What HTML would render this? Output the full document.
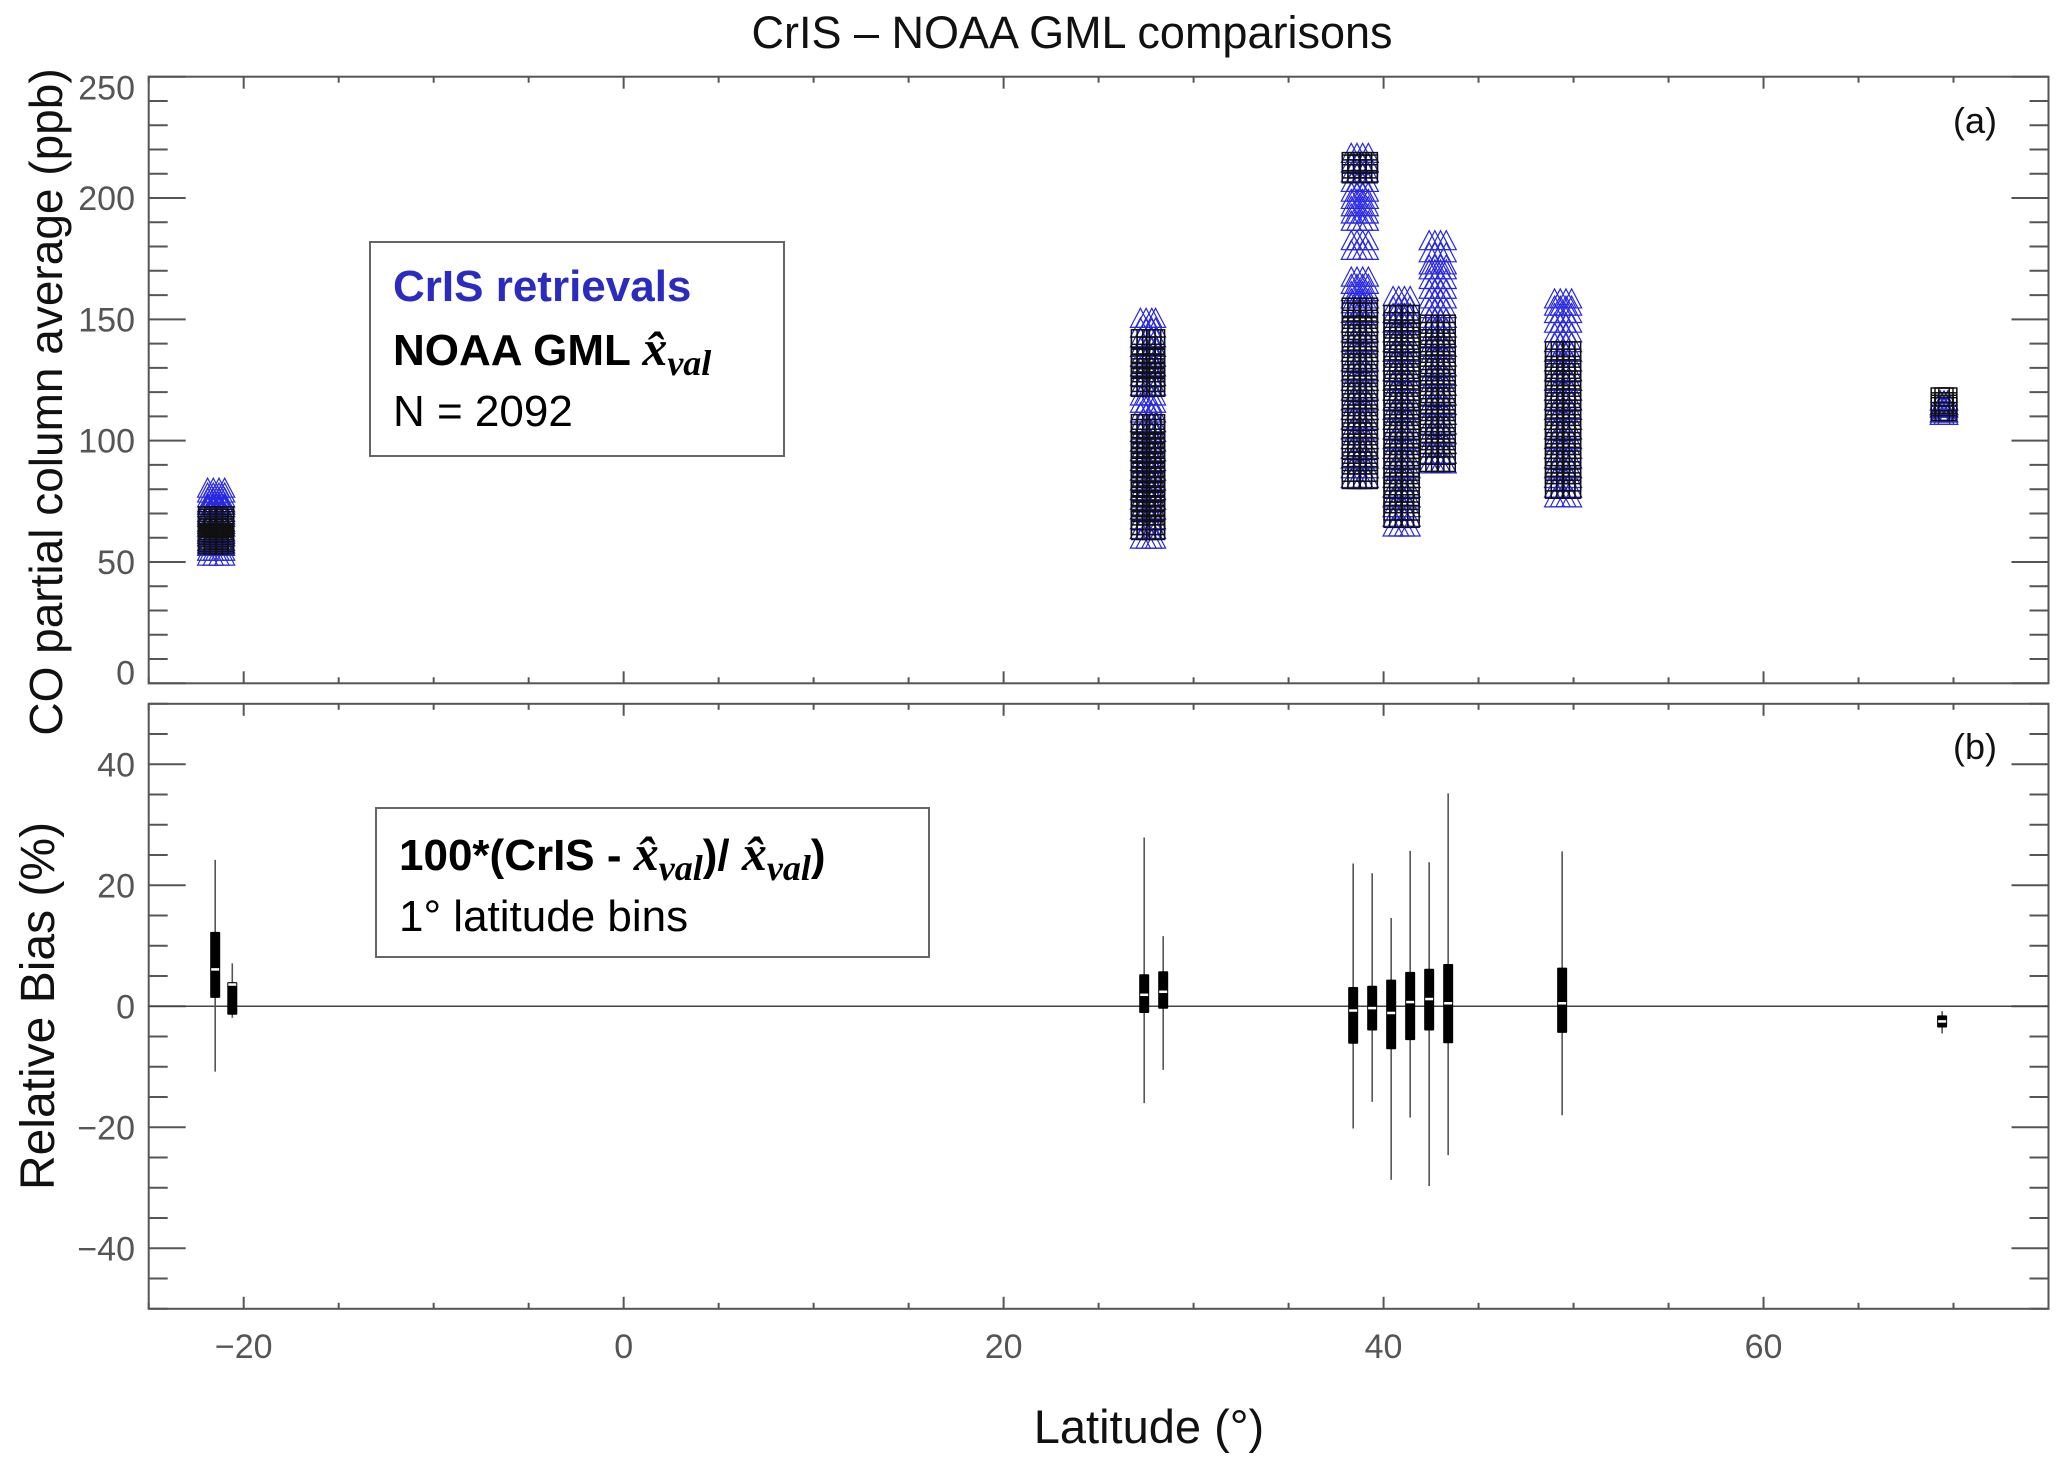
<!DOCTYPE html>
<html><head><meta charset="utf-8"><style>
html,body{margin:0;padding:0;background:#fff;}
svg{display:block;}
text{font-family:"Liberation Sans",sans-serif;}
</style></head><body>
<svg id="chart" width="2067" height="1470" viewBox="0 0 2067 1470" xmlns="http://www.w3.org/2000/svg">
<text x="1072" y="48" font-size="45" text-anchor="middle" fill="#111">CrIS – NOAA GML comparisons</text>
<text transform="translate(62,402) rotate(-90)" font-size="46" text-anchor="middle" fill="#111">CO partial column average (ppb)</text>
<text transform="translate(54,1006) rotate(-90)" font-size="48" text-anchor="middle" fill="#111">Relative Bias (%)</text>
<text x="1149" y="1443" font-size="47" text-anchor="middle" fill="#111">Latitude (°)</text>
<g id="axes"></g>
<g id="marksA"></g>
<g id="marksB"></g>
<text x="1975" y="133" font-size="36" text-anchor="middle" fill="#111">(a)</text>
<text x="1975" y="759" font-size="36" text-anchor="middle" fill="#111">(b)</text>
<g>
<rect x="370" y="242" width="414" height="214" fill="#fff" stroke="#666" stroke-width="2"/>
<text x="393" y="301" font-size="44" font-weight="bold" fill="#2b2bbf">CrIS retrievals</text>
<text x="393" y="365" font-size="44" font-weight="bold" fill="#000">NOAA GML <tspan font-family="Liberation Serif,serif" font-style="italic" font-size="50">x̂</tspan><tspan font-family="Liberation Serif,serif" font-style="italic" font-size="36" dy="10">val</tspan></text>
<text x="393" y="426" font-size="44" fill="#000">N = 2092</text>
</g>
<g>
<rect x="376" y="808" width="553" height="149" fill="#fff" stroke="#666" stroke-width="2"/>
<text x="399" y="870" font-size="44" font-weight="bold" fill="#000">100*(CrIS - <tspan font-family="Liberation Serif,serif" font-style="italic" font-size="50">x̂</tspan><tspan font-family="Liberation Serif,serif" font-style="italic" font-size="36" dy="10">val</tspan><tspan dy="-10">)/ </tspan><tspan font-family="Liberation Serif,serif" font-style="italic" font-size="50">x̂</tspan><tspan font-family="Liberation Serif,serif" font-style="italic" font-size="36" dy="10">val</tspan><tspan dy="-10">)</tspan></text>
<text x="399" y="931" font-size="44" fill="#000">1° latitude bins</text>
</g>
</svg>
<script>
// ---- data: panel (a) scatter, per cluster ----
const latsM21 = [-21.9,-21.6,-21.3,-21.0];
const sqM21 = [57,58,59,60,61,62,63,64,65,66,67,68,69,58,60,62,64,61,63];
const triM21 = [52,54,56,58,60,62,64,66,68,70,72,74,76,78,80,57,61,65,69,73];
const lats27 = [27.2,27.5,27.8,28.0];
const sq27 = [63,65,67,69,71,73,75,77,79,81,83,85,87,89,91,93,95,97,99,101,103,105,107,122,124,126,128,130,132,134,136,139,142];
const tri27 = [59,63,67,71,75,79,83,87,91,95,99,103,107,111,115,118,122,126,130,134,138,142,146,150];
const lats38 = [38.3,38.6,38.9,39.2];
const sq38 = [210,212,214,215,84,87,90,93,96,99,102,105,108,111,114,117,120,123,126,129,132,135,138,141,144,147,150,153,155];
const tri38 = [190,193,196,199,202,206,210,214,218,158,161,164,167,178,182,84,88,92,96,100,104,108,112,116,120,124,128,132,136,140,144,148,152,156];
const lats41 = [40.5,40.8,41.1,41.4];
const sq41 = [68,71,74,77,80,83,86,89,92,95,98,101,104,107,110,113,116,119,122,125,128,131,134,137,140,143,146,149,152];
const tri41 = [64,68,72,76,80,84,88,92,96,100,104,108,112,116,120,124,128,132,136,140,144,148,152,155,159];
const lats43 = [42.4,42.7,43.0,43.3];
const sq43 = [91,94,97,100,103,106,109,112,115,118,121,124,127,130,133,136,139,142,145,148];
const tri43 = [90,94,98,102,106,110,114,118,122,126,130,134,138,142,146,150,154,158,162,166,170,172,177,182];
const lats49 = [49.0,49.3,49.6,49.9];
const sq49 = [80,83,86,89,92,95,98,101,104,107,110,113,116,119,122,125,128,131,134,137];
const tri49 = [76,80,84,88,92,96,100,104,108,112,116,120,124,128,132,136,140,144,148,152,155,158];
const lats69 = [69.3,69.5,69.7];
const sq69 = [112,114,116,118,115];
const tri69 = [110,111,113,114,116];
// ---- data: panel (b) boxes ----
const boxLat = [-21.5,-20.6,27.4,28.4,38.4,39.4,40.4,41.4,42.4,43.4,49.4,69.4];
const boxWhiskerHi = [24.2,7.1,27.9,11.6,23.6,22.0,14.6,25.7,23.8,35.2,25.6,-0.8];
const boxQ3 = [12.3,4.0,5.3,5.8,3.2,3.4,4.4,5.7,6.2,7.0,6.4,-1.5];
const boxMedian = [6.1,3.6,1.9,2.4,-0.7,-0.3,-1.1,0.7,1.2,0.5,0.5,-2.5];
const boxQ1 = [1.4,-1.4,-1.1,-0.4,-6.2,-4.0,-7.1,-5.6,-4.0,-6.1,-4.4,-3.5];
const boxWhiskerLo = [-10.8,-1.9,-16.0,-10.5,-20.2,-15.8,-28.7,-18.4,-29.7,-24.6,-18.0,-4.5];
// ---- ticks ----
const xTicks = [-20,0,20,40,60];
const yTicksA = [0,50,100,150,200,250];
const yTicksB = [-40,-20,0,20,40];

const NS = 'http://www.w3.org/2000/svg';
const L = 148.7, R = 2048.5;
const A_T = 76.7, A_B = 683.3, B_T = 703.8, B_B = 1308.8;
function xs(v){ return L + (v + 25) / 100 * (R - L); }
function ya(v){ return A_B - v / 250 * (A_B - A_T); }
function yb(v){ return B_B - (v + 50) / 100 * (B_B - B_T); }
function mk(tag, attrs, parent){ const e = document.createElementNS(NS, tag); for (const k in attrs) e.setAttribute(k, attrs[k]); parent.appendChild(e); return e; }

const axes = document.getElementById('axes');
const AX = '#555';
function panel(top, bot, yfn, ymin, ymax, minorStep, majorTicks, name){
  const fr = mk('rect', {x:L, y:top, width:R-L, height:bot-top, fill:'none', stroke:AX, 'stroke-width':2}, axes);
  
  
  for (let v = -25; v <= 75; v += 5) {
    const maj = (v % 20 === 0);
    const h = maj ? 12 : 6;
    const x = xs(v);
    mk('line', {x1:x, x2:x, y1:top, y2:top+h, stroke:AX, 'stroke-width':2}, axes);
    mk('line', {x1:x, x2:x, y1:bot, y2:bot-h, stroke:AX, 'stroke-width':2}, axes);
  }
  for (let v = ymin; v <= ymax + 1e-9; v += minorStep) {
    const maj = majorTicks.indexOf(v) >= 0;
    const w = maj ? 37 : 19;
    const y = yfn(v);
    mk('line', {x1:L, x2:L+w, y1:y, y2:y, stroke:AX, 'stroke-width':2}, axes);
    mk('line', {x1:R, x2:R-w, y1:y, y2:y, stroke:AX, 'stroke-width':2}, axes);
  }
  majorTicks.forEach(v => {
    let y = yfn(v);
    y = Math.max(top + 11, Math.min(bot - 11, y));
    const t = mk('text', {x:135, y:y + 12, 'font-size':34, 'text-anchor':'end', fill:'#555'}, axes);
    t.textContent = v < 0 ? '\u2212' + Math.abs(v) : String(v);
    
    
  });
}
panel(A_T, A_B, ya, 0, 250, 10, yTicksA, 'panel-a');
panel(B_T, B_B, yb, -50, 50, 5, yTicksB, 'panel-b');
xTicks.forEach(v => {
  const t = mk('text', {x:xs(v), y:1358, 'font-size':34, 'text-anchor':'middle', fill:'#555'}, axes);
  t.textContent = v < 0 ? '\u2212' + Math.abs(v) : String(v);
  
  
});

// panel a scatter: triangles first, squares on top
const gA = document.getElementById('marksA');
const clusters = [
  [latsM21, sqM21, triM21], [lats27, sq27, tri27], [lats38, sq38, tri38],
  [lats41, sq41, tri41], [lats43, sq43, tri43], [lats49, sq49, tri49], [lats69, sq69, tri69]
];
clusters.forEach(c => {
  c[2].forEach(v => {
    c[0].forEach(lat => {
      const x = xs(lat), y = ya(v);
      const p = mk('polygon', {points:(x-10)+','+(y+8)+' '+(x+10)+','+(y+8)+' '+x+','+(y-11), fill:'none', stroke:'#2828e0', 'stroke-width':1.2}, gA);
      
      
    });
  });
});
clusters.forEach(c => {
  c[1].forEach(v => {
    c[0].forEach(lat => {
      const x = xs(lat), y = ya(v);
      const s = mk('rect', {x:x-9, y:y-9, width:18, height:18, fill:'none', stroke:'#111', 'stroke-width':1.5}, gA);
      
      
    });
  });
});

// panel b
const gB = document.getElementById('marksB');
const zl = mk('line', {x1:L, x2:R, y1:yb(0), y2:yb(0), stroke:'#444', 'stroke-width':1.5}, gB);


boxLat.forEach((lat, i) => {
  const x = xs(lat);
  const w = mk('line', {x1:x, x2:x, y1:yb(boxWhiskerHi[i]), y2:yb(boxWhiskerLo[i]), stroke:'#555', 'stroke-width':1.6}, gB);
  
  
  const b = mk('rect', {x:x-5, y:yb(boxQ3[i]), width:10, height:yb(boxQ1[i]) - yb(boxQ3[i]), fill:'#000', rx:1}, gB);
  
  
  const m = mk('line', {x1:x-4, x2:x+4, y1:yb(boxMedian[i]), y2:yb(boxMedian[i]), stroke:'#fff', 'stroke-width':2.5}, gB);
  
  
});
</script>
</body></html>
